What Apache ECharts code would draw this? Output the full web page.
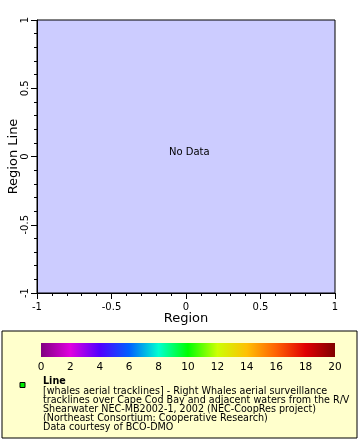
<!DOCTYPE html>
<html>
<head>
<meta charset="utf-8">
<script src="https://cdn.jsdelivr.net/npm/echarts@6/dist/echarts.min.js"></script>
<style>html,body{margin:0;padding:0;background:#fff;}#c{width:360px;height:440px;}</style>
</head>
<body>
<div id="c"></div>
<script>
var xTicks = [-1, -0.5, 0, 0.5, 1];
var yTicks = [-1, -0.5, 0, 0.5, 1];
var seriesData = []; // no data
var colorbarTicks = [0, 2, 4, 6, 8, 10, 12, 14, 16, 18, 20];
var colorbarColors = ['#800080', '#e000e0', '#5000ff', '#0060ff', '#00ffd0', '#00ff00', '#ccff00', '#ffc000', '#ff6000', '#e00000', '#800000'];
var legendTitle = 'Line';
var legendLines = [
  '[whales aerial tracklines] - Right Whales aerial surveillance',
  'tracklines over Cape Cod Bay and adjacent waters from the R/V',
  'Shearwater NEC-MB2002-1, 2002 (NEC-CoopRes project)',
  '(Northeast Consortium: Cooperative Research)',
  'Data courtesy of BCO-DMO'
];

var FONT = 'DejaVu Sans';
var chart = echarts.init(document.getElementById('c'), null, {renderer: 'canvas'});
var stops = colorbarColors.map(function (c, i) { return {offset: i / (colorbarColors.length - 1), color: c}; });

var option = {
  animation: false,
  textStyle: {fontFamily: FONT},
  grid: [
    {left: 37, top: 20, right: 25, bottom: 147, show: true, backgroundColor: '#ccccff', borderColor: '#000', borderWidth: 1, containLabel: false, outerBoundsMode: 'none'},
    {left: 41, top: 343, right: 25, height: 14, show: false, containLabel: false, outerBoundsMode: 'none'}
  ],
  xAxis: [
    {type: 'value', gridIndex: 0, min: xTicks[0], max: xTicks[xTicks.length - 1], interval: 0.5,
     name: 'Region', nameLocation: 'middle', nameGap: 19, nameMoveOverlap: false,
     nameTextStyle: {fontSize: 13, color: '#000', fontFamily: FONT},
     axisLine: {show: true, onZero: false, lineStyle: {color: '#000'}},
     axisTick: {show: true, inside: false, length: 6, lineStyle: {color: '#000'}},
     minorTick: {show: true, splitNumber: 5, length: 3, lineStyle: {color: '#000'}},
     splitLine: {show: false},
     axisLabel: {fontSize: 10, color: '#000', margin: 9, fontFamily: FONT, formatter: function (v) { return String(v); }}},
    {type: 'value', gridIndex: 1, min: 0, max: 20, interval: 2,
     axisLine: {show: false}, axisTick: {show: false}, splitLine: {show: false},
     axisLabel: {fontSize: 10.5, color: '#000', margin: 5, fontFamily: FONT}}
  ],
  yAxis: [
    {type: 'value', gridIndex: 0, min: yTicks[0], max: yTicks[yTicks.length - 1], interval: 0.5,
     name: 'Region Line', nameLocation: 'middle', nameGap: 17, nameMoveOverlap: false,
     nameTextStyle: {fontSize: 13, color: '#000', fontFamily: FONT},
     axisLine: {show: true, onZero: false, lineStyle: {color: '#000'}},
     axisTick: {show: true, inside: false, length: 6, lineStyle: {color: '#000'}},
     minorTick: {show: true, splitNumber: 5, length: 3, lineStyle: {color: '#000'}},
     splitLine: {show: false},
     axisLabel: {fontSize: 10, color: '#000', margin: 7, rotate: 90, fontFamily: FONT, formatter: function (v) { return String(v); }}},
    {type: 'value', gridIndex: 1, min: 0, max: 1, show: false}
  ],
  series: [
    {type: 'line', xAxisIndex: 0, yAxisIndex: 0, data: seriesData, z: 3},
    {type: 'custom', xAxisIndex: 1, yAxisIndex: 1, data: [[colorbarTicks[0], colorbarTicks[colorbarTicks.length - 1]]], z: 5,
     renderItem: function (params, api) {
       var p0 = api.coord([api.value(0), 1]);
       var p1 = api.coord([api.value(1), 0]);
       return {type: 'rect', shape: {x: p0[0], y: p0[1], width: p1[0] - p0[0], height: p1[1] - p0[1]},
               style: {fill: new echarts.graphic.LinearGradient(0, 0, 1, 0, stops)}};
     }}
  ],
  graphic: [
    {type: 'text', z: 10, x: 169, y: 147, style: {text: 'No Data', font: '10px ' + FONT, fill: '#000'}},
    {type: 'rect', z: -10, shape: {x: 2, y: 331, width: 355, height: 107}, style: {fill: '#ffffcc', stroke: '#000', lineWidth: 1}},
    {type: 'rect', z: 10, shape: {x: 20, y: 382.5, width: 5, height: 5}, style: {fill: '#00ee00', stroke: '#000', lineWidth: 1}},
    {type: 'text', z: 10, x: 43, y: 376, style: {text: legendTitle, font: 'bold 9.6px ' + FONT, fill: '#000'}},
    {type: 'text', z: 10, x: 43, y: 386.5, style: {text: legendLines.join('\n'), font: '9.6px ' + FONT, fill: '#000', lineHeight: 9}}
  ]
};
chart.setOption(option);
</script>
</body>
</html>
